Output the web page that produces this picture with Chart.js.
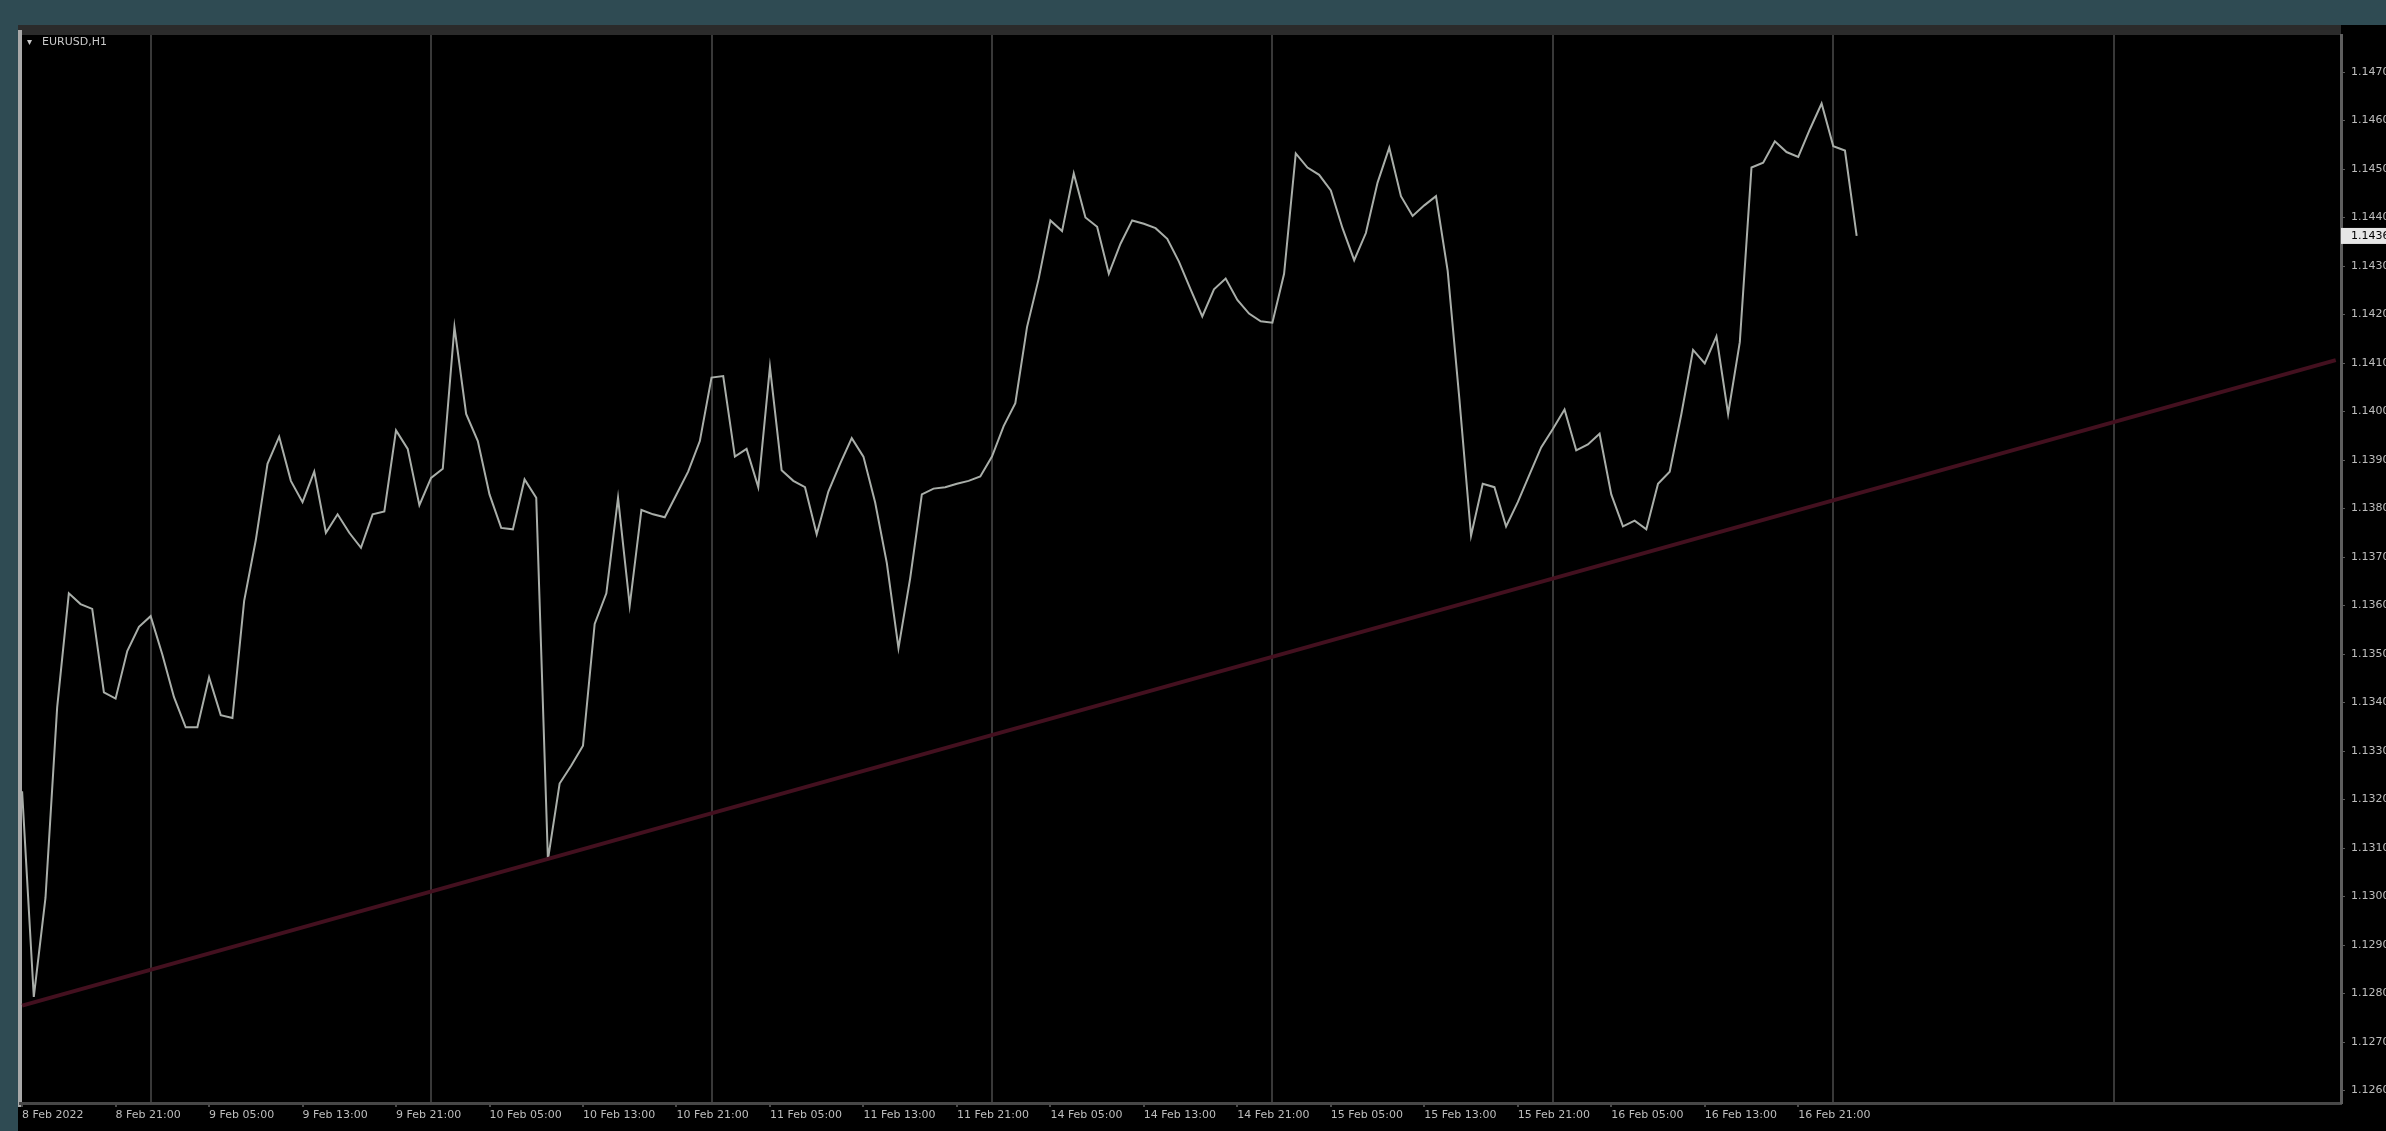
<!DOCTYPE html>
<html>
<head>
<meta charset="utf-8">
<title>EURUSD,H1</title>
<script src="https://cdn.jsdelivr.net/npm/chart.js@4.4.1/dist/chart.umd.min.js"></script>
<style>
  html, body { margin: 0; padding: 0; background: #2f4b53; overflow: hidden; }
  #wrap { position: absolute; left: 0; top: 0; width: 2386px; height: 1131px; }
</style>
</head>
<body>
<div id="wrap"><canvas id="chart" width="2386" height="1131"></canvas></div>
<script>
// hourly closes, one per bar
const closes = [
  1.13217, 1.12793, 1.12997, 1.13390, 1.13625, 1.13603, 1.13593, 1.13421, 1.13408, 1.13506,
  1.13556, 1.13578, 1.13499, 1.13411, 1.13349, 1.13349, 1.13452, 1.13374, 1.13368, 1.13609,
  1.13735, 1.13892, 1.13948, 1.13857, 1.13813, 1.13876, 1.13750, 1.13788, 1.13750, 1.13719,
  1.13788, 1.13794, 1.13961, 1.13923, 1.13807, 1.13863, 1.13882, 1.14174, 1.13995, 1.13939,
  1.13829, 1.13760, 1.13757, 1.13860, 1.13822, 1.13076, 1.13233, 1.13270, 1.13311, 1.13562,
  1.13625, 1.13822, 1.13600, 1.13797, 1.13788, 1.13782, 1.13829, 1.13876, 1.13939, 1.14070,
  1.14073, 1.13907, 1.13923, 1.13844, 1.14092, 1.13879, 1.13857, 1.13844, 1.13747, 1.13835,
  1.13892, 1.13945, 1.13907, 1.13813, 1.13688, 1.13512, 1.13656, 1.13829, 1.13841, 1.13844,
  1.13851, 1.13857, 1.13866, 1.13907, 1.13970, 1.14017, 1.14174, 1.14274, 1.14394, 1.14372,
  1.14491, 1.14400, 1.14381, 1.14284, 1.14346, 1.14394, 1.14387, 1.14378, 1.14356, 1.14309,
  1.14252, 1.14196, 1.14252, 1.14274, 1.14230, 1.14202, 1.14186, 1.14183, 1.14284, 1.14532,
  1.14503, 1.14488, 1.14456, 1.14378, 1.14312, 1.14368, 1.14472, 1.14544, 1.14444, 1.14403,
  1.14425, 1.14444, 1.14290, 1.14026, 1.13744, 1.13851, 1.13844, 1.13763, 1.13813, 1.13870,
  1.13926, 1.13964, 1.14004, 1.13920, 1.13932, 1.13954, 1.13829, 1.13763, 1.13775, 1.13757,
  1.13851, 1.13876, 1.13995, 1.14127, 1.14099, 1.14155, 1.13995, 1.14143, 1.14503, 1.14513,
  1.14557, 1.14535, 1.14525, 1.14582, 1.14635, 1.14547, 1.14538, 1.14362
]

// trend line, two anchor points (bar index, price)
const trendBars = [0, 198]
const trendPrices = [1.12775, 1.14106]

// time axis
const labelBars = [0, 8, 16, 24, 32, 40, 48, 56, 64, 72, 80, 88, 96, 104, 112, 120, 128, 136, 144, 152]
const timeLabels = [
  '8 Feb 2022', '8 Feb 21:00', '9 Feb 05:00', '9 Feb 13:00', '9 Feb 21:00',
  '10 Feb 05:00', '10 Feb 13:00', '10 Feb 21:00', '11 Feb 05:00', '11 Feb 13:00',
  '11 Feb 21:00', '14 Feb 05:00', '14 Feb 13:00', '14 Feb 21:00', '15 Feb 05:00',
  '15 Feb 13:00', '15 Feb 21:00', '16 Feb 05:00', '16 Feb 13:00', '16 Feb 21:00'
]
// day separators (bar at 00:00)
const daySeparators = [11, 35, 59, 83, 107, 131, 155, 179]

// price axis
const priceTicks = [
  1.147, 1.146, 1.145, 1.144, 1.143, 1.142, 1.141, 1.140, 1.139, 1.138, 1.137,
  1.136, 1.135, 1.134, 1.133, 1.132, 1.131, 1.130, 1.129, 1.128, 1.127, 1.126
]

const symbolTitle = 'EURUSD,H1'

const axisFont = { family: 'DejaVu Sans', size: 11 }
const labelColor = '#bdbdbd'

// backgrounds, frame, current price box, title
const terminalLook = {
  id: 'terminalLook',
  beforeDraw(chart) {
    const ctx = chart.ctx
    const area = chart.chartArea
    ctx.save()
    ctx.fillStyle = '#2f4b53'
    ctx.fillRect(0, 0, chart.width, chart.height)
    ctx.fillStyle = '#000000'
    ctx.fillRect(18, 25, chart.width - 18, chart.height - 25)
    ctx.fillStyle = '#2b2b2b'
    ctx.fillRect(18, 25, area.right - 18, 10)
    ctx.fillStyle = '#a9a9a9'
    ctx.fillRect(18, 30, 4, area.bottom - 26)
    ctx.restore()
  },
  afterDraw(chart) {
    const ctx = chart.ctx
    const area = chart.chartArea
    const y = chart.scales.y.getPixelForValue(closes[closes.length - 1])
    ctx.save()
    // current price tag
    ctx.fillStyle = '#e6e6e6'
    ctx.fillRect(area.right, y - 8, chart.width - area.right, 16)
    ctx.fillStyle = '#000000'
    ctx.font = '11px "DejaVu Sans"'
    ctx.textBaseline = 'middle'
    ctx.textAlign = 'left'
    ctx.fillText(closes[closes.length - 1].toFixed(5), area.right + 10, y)
    // symbol title
    ctx.fillStyle = '#c8c8c8'
    ctx.font = '10px "DejaVu Sans"'
    ctx.fillText('\u25BE', 27, 42)
    ctx.font = '11px "DejaVu Sans"'
    ctx.fillText(symbolTitle, 42, 42)
    ctx.restore()
  }
}

const chart = document.querySelector('#chart').getContext('2d')

new Chart(chart, {
  type: 'line',
  data: {
    datasets: [
      {
        label: 'trend',
        data: trendBars.map((b, i) => ({ x: b, y: trendPrices[i] })),
        borderColor: '#43101f',
        borderWidth: 4,
        pointRadius: 0,
        tension: 0
      },
      {
        label: symbolTitle,
        data: closes.map((v, i) => ({ x: i, y: v })),
        borderColor: '#a9aea9',
        borderWidth: 2,
        pointRadius: 0,
        tension: 0
      }
    ]
  },
  options: {
    responsive: false,
    animation: false,
    events: [],
    layout: { padding: { left: 20, top: 35, right: 0, bottom: 0 } },
    plugins: {
      legend: { display: false },
      tooltip: { enabled: false }
    },
    scales: {
      x: {
        type: 'linear',
        min: -0.18,
        max: 198.45,
        afterBuildTicks(scale) {
          const vals = labelBars.concat(daySeparators).sort((a, b) => a - b)
          scale.ticks = vals.map(v => ({ value: v }))
        },
        afterFit(scale) {
          scale.height = 28
          scale.paddingLeft = 0
          scale.paddingRight = 0
        },
        ticks: {
          autoSkip: false,
          maxRotation: 0,
          minRotation: 0,
          align: 'start',
          padding: 2,
          color: labelColor,
          font: axisFont,
          callback(v) {
            const k = labelBars.indexOf(v)
            return k >= 0 ? timeLabels[k] : ''
          }
        },
        grid: {
          color: ctx => (ctx.tick && daySeparators.includes(ctx.tick.value)) ? '#383838' : 'rgba(0,0,0,0)',
          lineWidth: 2,
          tickLength: 4,
          tickColor: ctx => (ctx.tick && labelBars.includes(ctx.tick.value)) ? '#4a4a4a' : 'rgba(0,0,0,0)'
        },
        border: { color: '#474747', width: 3 }
      },
      y: {
        type: 'linear',
        position: 'right',
        min: 1.1257424,
        max: 1.147763,
        afterBuildTicks(scale) {
          scale.ticks = priceTicks.map(v => ({ value: v }))
        },
        afterFit(scale) {
          scale.width = 45
          scale.paddingTop = 0
          scale.paddingBottom = 0
        },
        ticks: {
          padding: 6,
          color: labelColor,
          font: axisFont,
          callback: v => v.toFixed(5)
        },
        grid: {
          drawOnChartArea: false,
          tickLength: 4,
          tickColor: '#5a5a5a'
        },
        border: { color: '#5e5e5e', width: 3 }
      }
    }
  },
  plugins: [terminalLook]
})
</script>
</body>
</html>
